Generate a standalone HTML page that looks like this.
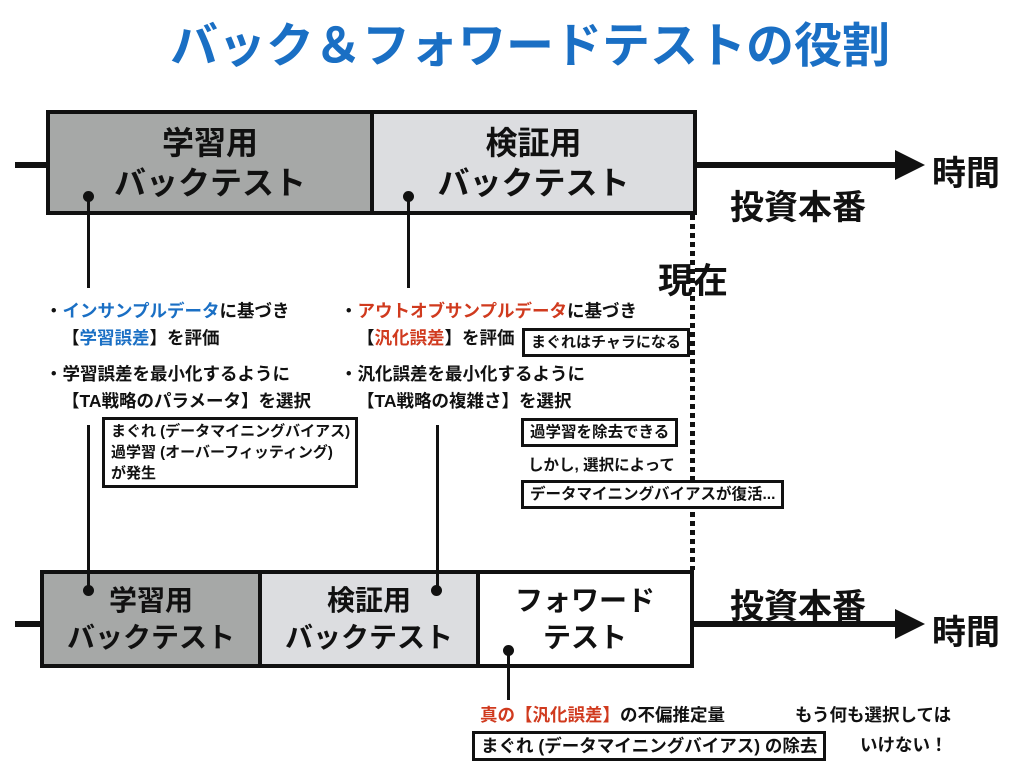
<!DOCTYPE html>
<html><head><meta charset="utf-8"><style>
*{margin:0;padding:0;box-sizing:border-box}
body{width:1024px;height:768px;background:#fff;position:relative;overflow:hidden;font-family:"Liberation Sans","Noto Sans CJK JP",sans-serif;color:#111}
.a{position:absolute;white-space:nowrap}
.seg{position:absolute;display:flex;align-items:center;justify-content:center;text-align:center;font-weight:bold;font-size:32px;line-height:40px;border:4px solid #111}
.t{font-size:17.5px;font-weight:bold;line-height:22px}
.b{color:#1a6fc4}.r{color:#d03a1e}
.box{position:absolute;border:3px solid #111;background:#fff;font-size:15.5px;font-weight:bold;padding:1px 6px;line-height:21px;white-space:nowrap}
.v{position:absolute;width:3px;background:#111}
.dot{position:absolute;width:11px;height:11px;border-radius:50%;background:#111}
.big{font-size:34px;font-weight:bold}
</style></head><body>
<div class="a" style="left:0;width:1060px;top:6px;text-align:center;font-size:48px;font-weight:bold;color:#1a6fc4">バック＆フォワードテストの役割</div>

<div class="a" style="left:15px;top:162px;width:890px;height:6px;background:#111"></div>
<svg class="a" style="left:895px;top:150px" width="30" height="30"><polygon points="0,0 30,15 0,30" fill="#111"/></svg>
<div class="seg" style="left:46px;top:110px;width:328px;height:105px;background:#a6a8a7">学習用<br>バックテスト</div>
<div class="seg" style="left:370px;top:110px;width:327px;height:105px;background:#dcdde0">検証用<br>バックテスト</div>
<div class="a big" style="left:932px;top:146px">時間</div>
<div class="a big" style="left:730px;top:180px">投資本番</div>
<div class="a" style="left:658px;top:253px;font-size:35px;font-weight:bold">現在</div>
<div class="a" style="left:690px;top:215px;width:5px;height:355px;background:repeating-linear-gradient(#111 0 5px,transparent 5px 9px)"></div>

<div class="dot" style="left:83px;top:191px"></div><div class="v" style="left:87px;top:196px;height:92px"></div>
<div class="dot" style="left:403px;top:191px"></div><div class="v" style="left:407px;top:196px;height:92px"></div>

<div class="a t" style="left:45px;top:300px">・<span class="b">インサンプルデータ</span>に基づき</div>
<div class="a t" style="left:62px;top:327px">【<span class="b">学習誤差</span>】を評価</div>
<div class="a t" style="left:45px;top:363px">・学習誤差を最小化するように</div>
<div class="a t" style="left:62px;top:390px">【TA戦略のパラメータ】を選択</div>
<div class="box" style="left:102px;top:417px;width:256px;font-size:15px">まぐれ (データマイニングバイアス)<br>過学習 (オーバーフィッティング)<br>が発生</div>

<div class="a t" style="left:340px;top:300px">・<span class="r">アウトオブサンプルデータ</span>に基づき</div>
<div class="a t" style="left:357px;top:327px">【<span class="r">汎化誤差</span>】を評価</div>
<div class="box" style="left:522px;top:328px;font-size:15px">まぐれはチャラになる</div>
<div class="a t" style="left:340px;top:363px">・汎化誤差を最小化するように</div>
<div class="a t" style="left:357px;top:390px">【TA戦略の複雑さ】を選択</div>
<div class="box" style="left:521px;top:418px">過学習を除去できる</div>
<div class="a" style="left:528px;top:453px;font-size:15.5px;font-weight:bold">しかし, 選択によって</div>
<div class="box" style="left:521px;top:480px">データマイニングバイアスが復活...</div>

<div class="v" style="left:87px;top:425px;height:165px"></div>
<div class="v" style="left:436px;top:425px;height:165px"></div>

<div class="a" style="left:15px;top:621px;width:890px;height:6px;background:#111"></div>
<svg class="a" style="left:895px;top:609px" width="30" height="30"><polygon points="0,0 30,15 0,30" fill="#111"/></svg>
<div class="seg" style="left:40px;top:570px;width:222px;height:98px;background:#a6a8a7;font-size:28px;line-height:37px">学習用<br>バックテスト</div>
<div class="seg" style="left:258px;top:570px;width:222px;height:98px;background:#dcdde0;font-size:28px;line-height:37px">検証用<br>バックテスト</div>
<div class="seg" style="left:476px;top:570px;width:218px;height:98px;background:#fff;font-size:28px;line-height:37px">フォワード<br>テスト</div>
<div class="v" style="left:87px;top:570px;height:20px"></div>
<div class="v" style="left:436px;top:570px;height:20px"></div>
<div class="dot" style="left:83px;top:585px"></div>
<div class="dot" style="left:431px;top:585px"></div>
<div class="big a" style="left:730px;top:579px">投資本番</div>
<div class="a big" style="left:932px;top:605px">時間</div>
<div class="dot" style="left:503px;top:645px"></div><div class="v" style="left:507px;top:650px;height:50px"></div>
<div class="a t" style="left:480px;top:704px"><span class="r">真の【汎化誤差】</span>の不偏推定量</div>
<div class="box" style="left:472px;top:731px;font-size:17.5px;line-height:22px">まぐれ (データマイニングバイアス) の除去</div>
<div class="a t" style="left:795px;top:704px">もう何も選択しては</div>
<div class="a t" style="left:860px;top:734px">いけない！</div>
</body></html>
